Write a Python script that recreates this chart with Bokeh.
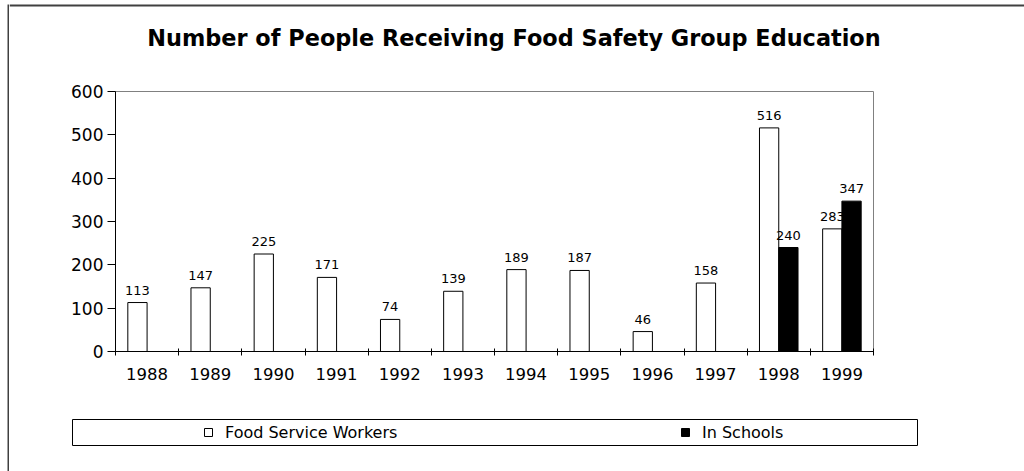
from bokeh.plotting import figure
from bokeh.layouts import row, column
from bokeh.models import (Range1d, FixedTicker, ColumnDataSource, LabelSet, Label,
                          Legend, LegendItem, BoxAnnotation)
from bokeh.core.properties import value
from bokeh.embed import file_html
from bokeh.resources import INLINE

# ---- data ----
years = ["1988", "1989", "1990", "1991", "1992", "1993",
         "1994", "1995", "1996", "1997", "1998", "1999"]
food_service_workers = [113, 147, 225, 171, 74, 139, 189, 187, 46, 158, 516, 283]
in_schools = [0, 0, 0, 0, 0, 0, 0, 0, 0, 0, 240, 347]
y_ticks = [0, 100, 200, 300, 400, 500, 600]
series_names = ["Food Service Workers", "In Schools"]
title_text = "Number of People Receiving Food Safety Group Education"

n = len(years)
centers = [i + 0.5 for i in range(n)]
bw = 0.305
FONT = "DejaVu Sans"
EDGE = "#404040"


def panel(w, h, bl, br, bt, bb, bg="white", outline=None):
    s = figure(width=w, height=h, output_backend="svg", toolbar_location=None,
               title=None, x_axis_location=None, y_axis_location=None,
               x_range=Range1d(0, 1), y_range=Range1d(0, 1),
               min_border_left=bl, min_border_right=br,
               min_border_top=bt, min_border_bottom=bb)
    s.frame_align = False
    s.background_fill_color = bg
    s.border_fill_color = "white"
    s.outline_line_color = outline
    s.xgrid.visible = False
    s.ygrid.visible = False
    return s


# left edge of the chart border
left_edge = panel(9, 471, 7, 0, 4, 0, bg=EDGE)

# header: top edge of the chart border + title
head = panel(1015, 76, 0, 0, 0, 0)
head.add_layout(BoxAnnotation(left=0, right=1015, top=72, bottom=70,
                              left_units="screen", right_units="screen",
                              top_units="screen", bottom_units="screen",
                              fill_color=EDGE, fill_alpha=1, line_color=None))
head.add_layout(Label(x=504.5, y=39, x_units="screen", y_units="screen",
                      text=title_text, text_align="center", text_baseline="middle",
                      text_font=FONT, text_font_style="bold",
                      text_font_size="22.4px", text_color="black"))

# ---- main chart ----
p = figure(width=1015, height=324, output_backend="svg", toolbar_location=None,
           title=None, x_range=Range1d(0, n), y_range=Range1d(0, 600),
           min_border_left=106, min_border_right=151, min_border_top=15,
           min_border_bottom=49)
p.frame_align = False
p.background_fill_color = "white"
p.border_fill_color = "white"
p.outline_line_color = "#808080"
p.outline_line_width = 1
p.xgrid.visible = False
p.ygrid.visible = False

src = ColumnDataSource(dict(
    x1=[c - bw / 2 for c in centers],
    x2=[c + bw / 2 for c in centers],
    fsw=food_service_workers,
    sch=in_schools,
))
r1 = p.vbar(x="x1", top="fsw", width=bw, source=src,
            fill_color="white", line_color="black", line_width=1)

lab1 = ColumnDataSource(dict(
    x=[c - bw / 2 for c in centers],
    y=food_service_workers,
    t=[str(v) for v in food_service_workers],
))
p.add_layout(LabelSet(x="x", y="y", text="t", source=lab1, level="underlay",
                      text_align="center", text_baseline="alphabetic", y_offset=8,
                      text_font=value(FONT), text_font_size="13px",
                      text_color="black"))

r2 = p.vbar(x="x2", top="sch", width=bw, source=src,
            fill_color="black", line_color="black", line_width=1)

sch_idx = [i for i, v in enumerate(in_schools) if v > 0]
lab2 = ColumnDataSource(dict(
    x=[centers[i] + bw / 2 for i in sch_idx],
    y=[in_schools[i] for i in sch_idx],
    t=[str(in_schools[i]) for i in sch_idx],
))
p.add_layout(LabelSet(x="x", y="y", text="t", source=lab2,
                      text_align="center", text_baseline="alphabetic", y_offset=8,
                      text_font=value(FONT), text_font_size="13px",
                      text_color="black"))

xa = p.xaxis[0]
xa.ticker = FixedTicker(ticks=centers, minor_ticks=list(range(n + 1)))
xa.major_label_overrides = {c: y for c, y in zip(centers, years)}
xa.major_tick_in = 0
xa.major_tick_out = 0
xa.minor_tick_in = 3
xa.minor_tick_out = 4
xa.minor_tick_line_color = "black"
xa.axis_line_color = "black"
xa.major_label_standoff = 12
xa.major_label_text_font = FONT
xa.major_label_text_font_size = "16.5px"
xa.major_label_text_color = "black"

ya = p.yaxis[0]
ya.ticker = FixedTicker(ticks=y_ticks)
ya.major_tick_in = 0
ya.major_tick_out = 8
ya.major_tick_line_color = "black"
ya.minor_tick_line_color = None
ya.axis_line_color = "black"
ya.major_label_standoff = 4
ya.major_label_text_font = FONT
ya.major_label_text_font_size = "17px"
ya.major_label_text_color = "black"

# ---- legend strip ----
g = panel(1015, 71, 63, 107, 19, 26, outline="black")
g.outline_line_width = 1
# legend swatches (hidden proxy renderers carrying the two series' styles)
d1 = g.vbar(x=[0.5], top=[1], width=0.1, fill_color="white", line_color="black",
            visible=False)
d2 = g.vbar(x=[0.5], top=[1], width=0.1, fill_color="black", line_color="black",
            visible=False)
legend = Legend(items=[LegendItem(label=series_names[0], renderers=[d1]),
                       LegendItem(label=series_names[1], renderers=[d2])],
                orientation="horizontal", location=(131, 3),
                border_line_color=None, background_fill_alpha=0,
                inactive_fill_alpha=0,
                padding=0, margin=0, spacing=0,
                glyph_width=10, glyph_height=10, label_standoff=12,
                label_width=455, label_height=20,
                label_text_font=FONT, label_text_font_size="16px",
                label_text_color="black")
g.add_layout(legend)

layout = row(left_edge, column(head, p, g))

open("out.html", "w").write(file_html(layout, INLINE))
